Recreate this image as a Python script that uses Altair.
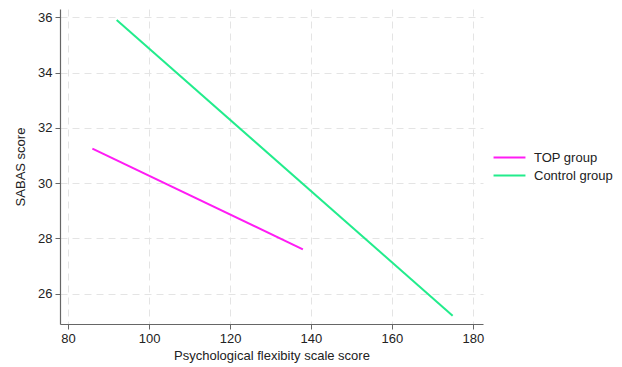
import altair as alt
import pandas as pd

groups = ["TOP group", "TOP group", "Control group", "Control group"]
flex_scores = [86, 138, 92, 175]
sabas_scores = [31.25, 27.6, 35.9, 25.2]

x_ticks = [80, 100, 120, 140, 160, 180]
y_ticks = [26, 28, 30, 32, 34, 36]
series_order = ["TOP group", "Control group"]
series_colors = ["#ff1cf4", "#22ec8c"]

df = pd.DataFrame({"group": groups, "x": flex_scores, "y": sabas_scores})

font = "Liberation Sans"

chart = alt.Chart(df).mark_line(strokeWidth=2).encode(
    x=alt.X("x:Q", title="Psychological flexibity scale score",
            scale=alt.Scale(domain=[78, 182.5], nice=False, zero=False),
            axis=alt.Axis(values=x_ticks, format="d")),
    y=alt.Y("y:Q", title="SABAS score",
            scale=alt.Scale(domain=[24.9, 36.3], nice=False, zero=False),
            axis=alt.Axis(values=y_ticks, format="d")),
    color=alt.Color("group:N", sort=series_order,
                    scale=alt.Scale(domain=series_order, range=series_colors),
                    legend=alt.Legend(title=None, orient="none", legendX=439, legendY=138,
                                      symbolType="M-1.68,0H1.68", symbolSize=361,
                                      symbolStrokeWidth=2, rowPadding=0,
                                      labelFontSize=13, labelFont=font,
                                      labelColor="#222222", labelOffset=14)),
    detail="group:N",
).properties(
    width=423, height=315,
    autosize=alt.AutoSizeParams(type="none"),
    padding={"left": 52, "top": 1, "right": 131, "bottom": 45},
).configure_axis(
    labelFont=font, titleFont=font, labelFontSize=13, titleFontSize=13,
    titleFontWeight="normal", labelColor="#222222", titleColor="#222222",
    domainColor="#666666", domainWidth=1.2, tickColor="#666666", tickSize=5,
    grid=True, gridColor="#e4e4e4", gridDash=[7, 5], gridWidth=1,
    labelPadding=3,
).configure_axisX(titlePadding=4).configure_axisY(titlePadding=10).configure_view(stroke=None)

chart.save("out.html", embed_options={"renderer": "svg", "actions": False})
